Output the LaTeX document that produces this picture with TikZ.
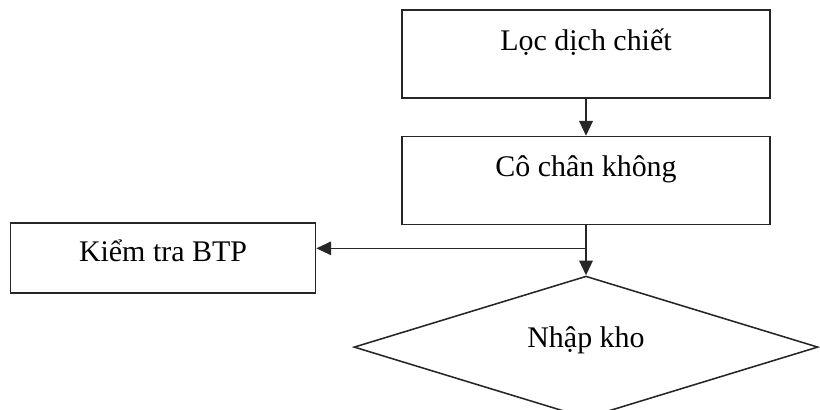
\documentclass[tikz,border=0pt]{standalone}
\usepackage{fontspec}
\setmainfont{Liberation Serif}
\usetikzlibrary{arrows.meta, positioning, shapes.geometric}

\begin{document}
\begin{tikzpicture}[
    node distance=0.925cm,
    box/.style={draw=black!85, line width=1.1pt, minimum width=9.2cm,
        minimum height=2.2cm, text height=0.5cm, text depth=0.7cm,
        font=\fontsize{21.3}{25}\selectfont},
    sidebox/.style={draw=black!85, line width=1.1pt, minimum width=7.63cm,
        minimum height=1.75cm, text height=0.5cm, text depth=0.35cm,
        font=\fontsize{21.3}{25}\selectfont},
    storebox/.style={draw=black!85, line width=1.1pt, diamond, aspect=3.27,
        inner sep=0pt, minimum width=11.6cm, minimum height=3.55cm,
        text height=0.5cm, text depth=0.5cm,
        font=\fontsize{21.3}{25}\selectfont},
    arr/.style={-{Triangle[length=3.7mm, width=3.4mm]}, line width=1.1pt,
        draw=black!85, fill=black!75},
]
    \clip (0,0) rectangle (20.5,-10.25);
    \useasboundingbox (0,0) rectangle (20.5,-10.25);

    \node[box] (loc) at (14.65,-1.35) {Lọc dịch chiết};
    \node[box, below=of loc] (co) {Cô chân không};
    \node[storebox, below=1.25cm of co] (kho) {Nhập kho};
    \node[sidebox] (kt) at (4.075,-6.45) {Kiểm tra BTP};

    \path (co.south) -- (kho.north) coordinate[pos=0.46] (split);

    \draw[arr] (loc) -- (co);
    \draw[arr] (co.south) -- (kho.north);
    \draw[arr] (split) -- (split -| kt.east);
\end{tikzpicture}
\end{document}
